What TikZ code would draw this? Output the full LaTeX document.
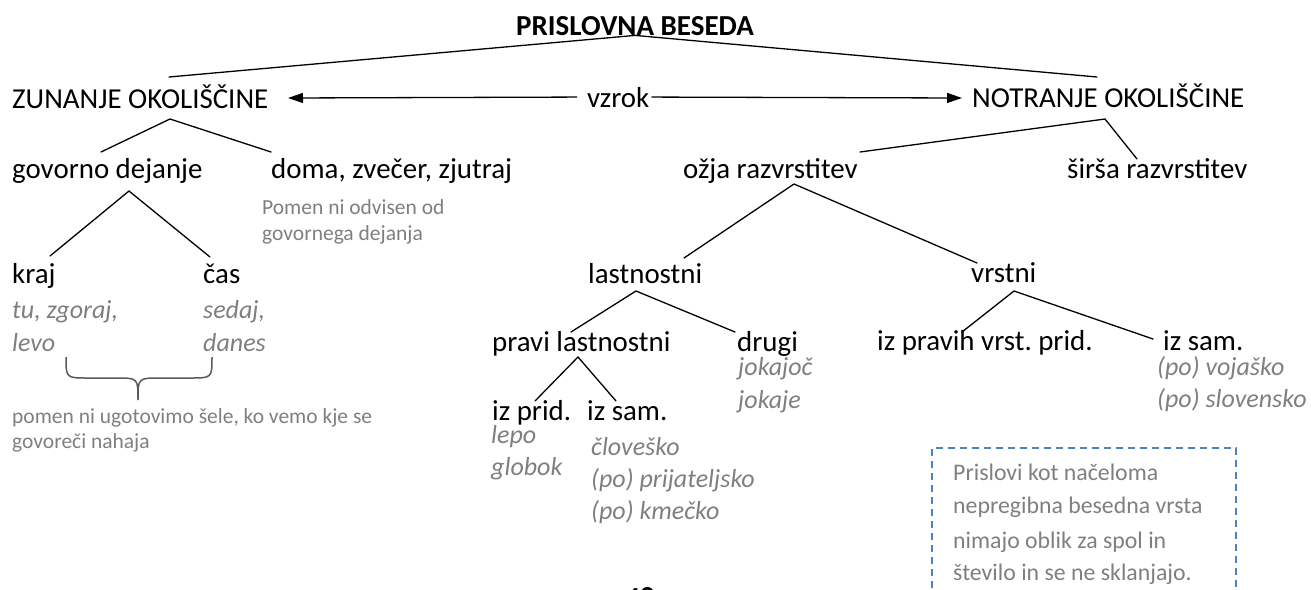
\documentclass[tikz,border=0pt]{standalone}
\usepackage{fontspec}
\setmainfont{Carlito}
\usetikzlibrary{arrows.meta}
\definecolor{txtgray}{HTML}{7F7F7F}
\definecolor{bracegray}{HTML}{595959}
\definecolor{boxblue}{HTML}{4F81BD}
\frenchspacing
\begin{document}
\begin{tikzpicture}[x=1pt,y=-1pt,
  lbl/.style={anchor=base west, inner sep=0pt, font=\fontsize{28.9}{34}\selectfont},
  ttl/.style={anchor=base, inner sep=0pt, font=\fontsize{29}{34}\selectfont\bfseries},
  note/.style={anchor=base west, inner sep=0pt, text=txtgray, font=\fontsize{21.5}{26}\selectfont},
  ex/.style={anchor=base west, inner sep=0pt, text=txtgray, font=\fontsize{26}{32}\selectfont\itshape},
  boxtxt/.style={anchor=base west, inner sep=0pt, text=txtgray, font=\fontsize{23.8}{33}\selectfont},
  edge/.style={line width=1.3pt, line cap=round},
  arr/.style={line width=1.3pt, -{Triangle[length=15pt,width=10pt]}},
]
\useasboundingbox (0,0) rectangle (1311,589);
\clip (0,0) rectangle (1311,589);

% ---- nodes ----
\node[ttl] (title) at (635,35) {PRISLOVNA BESEDA};
\node[lbl] (zun) at (12,108) {ZUNANJE OKOLIŠČINE};
\node[lbl] (vzrok) at (587,107) {vzrok};
\node[lbl] (notr) at (972,107) {NOTRANJE OKOLIŠČINE};

\node[lbl] (gov) at (12,178) {govorno dejanje};
\node[lbl] (doma) at (271,178) {doma, zvečer, zjutraj};
\node[note] (pomA) at (262,214) {Pomen ni odvisen od};
\node[note] (pomB) at (262,240) {govornega dejanja};
\node[lbl] (ozja) at (683,178) {ožja razvrstitev};
\node[lbl] (sirsa) at (1067,178) {širša razvrstitev};

\node[lbl] (kraj) at (12,283) {kraj};
\node[lbl] (cas) at (203,283) {čas};
\node[ex] (tu) at (12,318) {tu, zgoraj,};
\node[ex] (levo) at (12,351) {levo};
\node[ex] (sedaj) at (203,318) {sedaj,};
\node[ex] (danes) at (203,351) {danes};
\node[note] (ugA) at (12,423) {pomen ni ugotovimo šele, ko vemo kje se};
\node[note] (ugB) at (12,448) {govoreči nahaja};

\node[lbl] (lastn) at (588,283) {lastnostni};
\node[lbl] (vrstni) at (971,282) {vrstni};
\node[lbl] (pravi) at (492,351) {pravi lastnostni};
\node[lbl] (drugi) at (737,351) {drugi};
\node[ex] (jokajoc) at (738,375) {jokajoč};
\node[ex] (jokaje) at (738,408) {jokaje};
\node[lbl] (izpravih) at (877,350) {iz pravih vrst. prid.};
\node[lbl] (izsamB) at (1163,350) {iz sam.};
\node[ex] (vojasko) at (1157,375) {(po) vojaško};
\node[ex] (slovensko) at (1157,407) {(po) slovensko};

\node[lbl] (izprid) at (492,420) {iz prid.};
\node[lbl] (izsamA) at (587,420) {iz sam.};
\node[ex] (lepo) at (491,443) {lepo};
\node[ex] (globok) at (491,475) {globok};
\node[ex] (clovesko) at (591,455) {človeško};
\node[ex] (prij) at (591,487) {(po) prijateljsko};
\node[ex] (kmecko) at (591,519) {(po) kmečko};

\node[boxtxt] (bA) at (953,480) {Prislovi kot načeloma};
\node[boxtxt] (bB) at (953,513) {nepregibna besedna vrsta};
\node[boxtxt] (bC) at (953,548) {nimajo oblik za spol in};
\node[boxtxt] (bD) at (953,580) {število in se ne sklanjajo.};

\node[anchor=north, inner sep=0pt, font=\fontsize{29}{34}\selectfont\bfseries] (page) at (640,587) {48};

% ---- connector end points ----
\coordinate (zunT) at (169,77);
\coordinate (notrT) at (1097,77);
\coordinate (zunB) at (170,119);
\coordinate (govT) at (101,152);
\coordinate (domaT) at (271,152);
\coordinate (govB) at (129,191);
\coordinate (krajT) at (50,256);
\coordinate (casT) at (210,257);
\coordinate (notrB) at (1105,119);
\coordinate (ozjaT) at (860,152);
\coordinate (sirsaT) at (1137,159);
\coordinate (ozjaB) at (794,184);
\coordinate (lastnT) at (684,258);
\coordinate (vrstniT) at (977,263);
\coordinate (lastnB) at (636,291);
\coordinate (praviT) at (571,332);
\coordinate (drugiT) at (735,332);
\coordinate (praviB) at (578,357);
\coordinate (izpridT) at (535,401);
\coordinate (izsamAT) at (616,401);
\coordinate (vrstniB) at (1014,291);
\coordinate (izpravihT) at (962,332);
\coordinate (izsamBT) at (1153,339);
\coordinate (zunArr) at (288,98);
\coordinate (notrArr) at (962,98);

% ---- connectors ----
\draw[edge] (zunT) -- (title.south) -- (notrT);
\draw[edge] (govT) -- (zunB) -- (domaT);
\draw[edge] (krajT) -- (govB) -- (casT);
\draw[edge] (ozjaT) -- (notrB) -- (sirsaT);
\draw[edge] (lastnT) -- (ozjaB) -- (vrstniT);
\draw[edge] (praviT) -- (lastnB) -- (drugiT);
\draw[edge] (izpridT) -- (praviB) -- (izsamAT);
\draw[edge] (izpravihT) -- (vrstniB) -- (izsamBT);

\draw[arr] ([xshift=-10pt]vzrok.west) -- (zunArr);
\draw[arr] ([xshift=2pt]vzrok.east) -- (notrArr);

% ---- brace ----
\draw[bracegray, line width=1.5pt]
  (66,357) .. controls (66,378) .. (88,378) -- (116,378)
  .. controls (138,378) .. (138,400)
  .. controls (138,378) .. (160,378) -- (190,378)
  .. controls (212,378) .. (212,357);

% ---- dashed box ----
\draw[boxblue, line width=1.4pt, dash pattern=on 7pt off 5pt]
  (932,600) -- (932,448) -- (1236,448) -- (1236,600);
\end{tikzpicture}
\end{document}
